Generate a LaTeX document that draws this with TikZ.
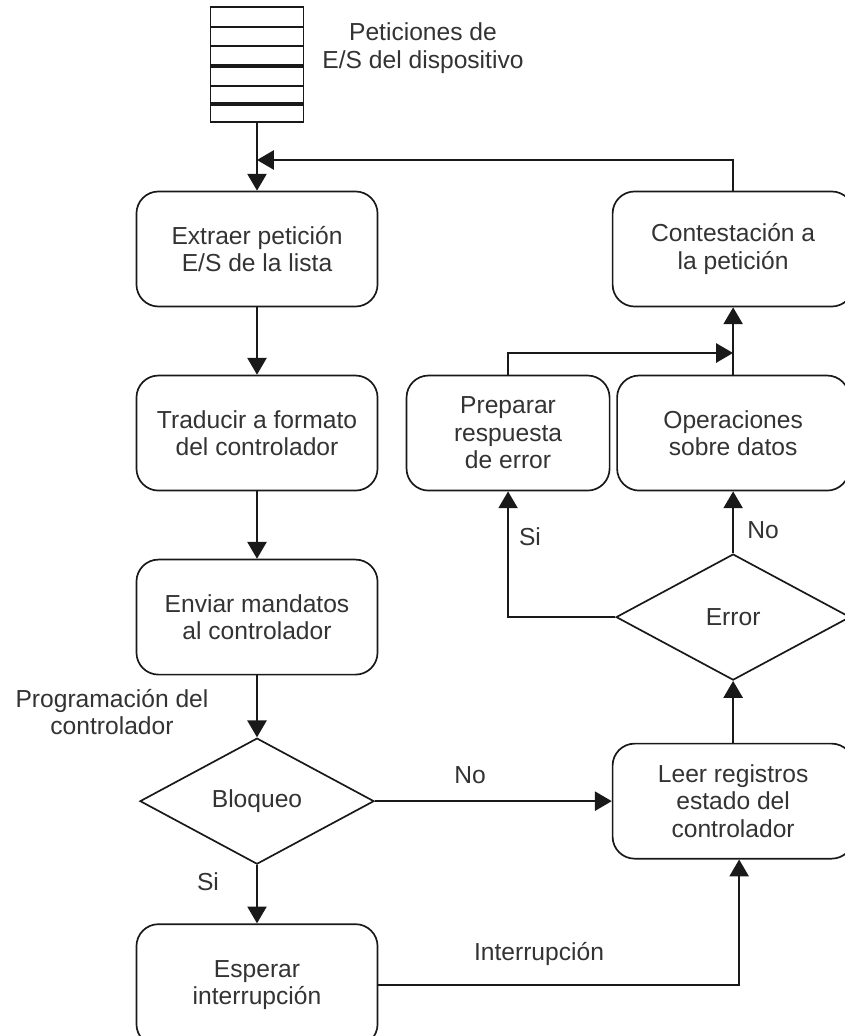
\documentclass[tikz,border=0pt]{standalone}
\usepackage{fontspec}
\setmainfont{Liberation Sans}
\usetikzlibrary{shapes.geometric, arrows.meta}
\tikzstyle{proceso} = [rectangle, rounded corners=0.55cm, minimum width=6.025cm, minimum height=2.875cm, text centered, align=center, draw=black!90, line width=1.2pt]
\tikzstyle{decision} = [diamond, minimum width=5.85cm, minimum height=3.15cm, inner sep=0pt, align=center, draw=black!90, line width=1.2pt]
\tikzstyle{flecha} = [-{Triangle[length=0.42cm, width=0.48cm]}, line width=1.2pt, draw=black!90]
\tikzstyle{etiqueta} = [align=center]

\begin{document}
\begin{tikzpicture}[x=0.025cm, y=-0.025cm, node distance=4.6cm, font=\fontsize{17.5}{19.5}\selectfont, text=black!80]
    \useasboundingbox (0,0) rectangle (844,1036);

    % cola de peticiones
    \node[draw=black!90, line width=1.2pt, minimum width=2.325cm, minimum height=2.875cm, inner sep=0pt] (cola) at (257,64.5) {};
    \foreach \y in {27,46,86} \draw[line width=1.2pt, black!90] (210.5,\y) -- (303.5,\y);
    \foreach \y in {66,104} \draw[line width=2.4pt, black!90] (210.5,\y) -- (303.5,\y);
    \node[etiqueta] (peticiones) at (423,48) {Peticiones de\\E/S del dispositivo};

    \node[proceso] (extraer) at (257,249) {Extraer petición\\E/S de la lista};
    \node[proceso, below of=extraer] (traducir) {Traducir a formato\\del controlador};
    \node[proceso, below of=traducir] (enviar) {Enviar mandatos\\al controlador};
    \node[decision, below of=enviar] (bloqueo) {Bloqueo};
    \node[proceso, below of=bloqueo, minimum height=3.05cm] (esperar) {Esperar\\interrupción};

    \node[proceso, right of=extraer, xshift=7.3cm] (contest) {Contestación a\\la petición};
    \node[proceso, below of=contest, minimum width=5.8cm] (operaciones) {Operaciones\\sobre datos};
    \node[proceso, left of=operaciones, xshift=-1.025cm, minimum width=5.075cm] (preparar) {Preparar\\respuesta\\de error};
    \node[decision, below of=operaciones] (error) {Error};
    \node[proceso, below of=error] (leer) {Leer registros\\estado del\\controlador};

    \node[etiqueta] (programacion) at (112,712) {Programación del\\controlador};
    \node (si1) at (208,882) {Si};
    \node (no1) at (470,775) {No};
    \node (interrup) at (539,954) {Interrupción};
    \node (si2) at (530,537) {Si};
    \node (no2) at (763,530) {No};

    \coordinate (retorno) at (257,160);
    \coordinate (junta) at (733,353);

    \draw [flecha] (cola) -- (extraer);
    \draw [flecha] (contest.north) |- (retorno);
    \draw [flecha] (extraer) -- (traducir);
    \draw [flecha] (traducir) -- (enviar);
    \draw [flecha] (enviar) -- (bloqueo);
    \draw [flecha] (bloqueo) -- (esperar);
    \draw [flecha] (bloqueo) -- (leer);
    \draw [flecha] (esperar.east) -| ([xshift=0.15cm]leer.south);
    \draw [flecha] (leer) -- (error);
    \draw [flecha] (error) -- (operaciones);
    \draw [flecha] (error.west) -| (preparar.south);
    \draw [flecha] (operaciones) -- (contest);
    \draw [flecha] (preparar.north) |- (junta);

\end{tikzpicture}
\end{document}
